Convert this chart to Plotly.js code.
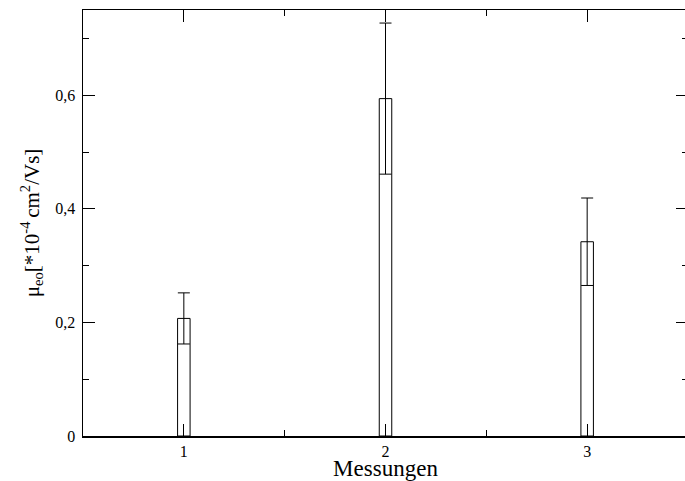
<!DOCTYPE html>
<html>
<head>
<meta charset="utf-8">
<script src="https://cdn.plot.ly/plotly-3.0.1.min.js"></script>
<style>
html, body { margin: 0; padding: 0; overflow: hidden; background: #fff; }
#chart { width: 690px; height: 481px; }
</style>
</head>
<body>
<div id="chart"></div>
<script>
const messungen = [1, 2, 3];
const mobility = [0.207, 0.594, 0.342];
const errors = [0.045, 0.133, 0.077];
const xTickLabels = ['1', '2', '3'];

const serif = 'Liberation Serif';

const barTrace = {
  type: 'bar',
  x: messungen,
  y: mobility,
  width: 0.062,
  marker: { color: 'rgba(255,255,255,1)', line: { color: '#000', width: 1 } },
  error_y: { type: 'data', array: errors, visible: true, color: '#000', thickness: 1, width: 6 },
  hoverinfo: 'none'
};

// invisible helper trace so the minor-tick overlay axes get drawn
const minorTickTrace = {
  type: 'scatter',
  mode: 'markers',
  x: messungen,
  y: mobility,
  xaxis: 'x2',
  yaxis: 'y2',
  marker: { opacity: 0, size: 1 },
  hoverinfo: 'none'
};

const tickFont = { family: serif, size: 16, color: '#000' };

const layout = {
  width: 690,
  height: 481,
  margin: { l: 83, r: 2, t: 10, b: 45 },
  paper_bgcolor: '#fff',
  plot_bgcolor: '#fff',
  separators: ',.',
  showlegend: false,
  font: { family: serif, size: 16, color: '#000' },
  xaxis: {
    range: [0.5, 3.5],
    tickmode: 'array',
    tickvals: messungen,
    ticktext: xTickLabels,
    ticks: 'inside',
    ticklen: 12,
    tickwidth: 1,
    tickcolor: '#000',
    showline: true,
    linecolor: '#000',
    linewidth: 1.5,
    mirror: 'ticks',
    showgrid: false,
    zeroline: false,
    tickfont: tickFont,
    title: { text: 'Messungen', font: { family: serif, size: 23, color: '#000' } }
  },
  yaxis: {
    range: [0, 0.75],
    tickmode: 'linear',
    dtick: 0.2,
    tick0: 0,
    ticks: 'inside',
    ticklen: 12,
    tickwidth: 1,
    tickcolor: '#000',
    showline: true,
    linecolor: '#000',
    linewidth: 1.5,
    mirror: 'ticks',
    showgrid: false,
    zeroline: false,
    tickfont: tickFont,
    ticklabelstandoff: 3,
    title: { text: 'μ<sub>eo</sub>[*10<sup>-4 </sup>cm<sup>2</sup>/Vs]', font: { family: serif, size: 21, color: '#000' }, standoff: 10 }
  },
  xaxis2: {
    overlaying: 'x',
    anchor: 'y2',
    side: 'bottom',
    range: [0.5, 3.5],
    tickmode: 'linear',
    tick0: 0.5,
    dtick: 0.5,
    ticks: 'inside',
    ticklen: 6,
    tickwidth: 1,
    tickcolor: '#000',
    showticklabels: false,
    showline: true,
    linecolor: '#000',
    linewidth: 1.5,
    mirror: 'ticks',
    showgrid: false,
    zeroline: false
  },
  yaxis2: {
    overlaying: 'y',
    anchor: 'x2',
    side: 'left',
    range: [0, 0.75],
    tickmode: 'linear',
    tick0: 0,
    dtick: 0.1,
    ticks: 'inside',
    ticklen: 6,
    tickwidth: 1,
    tickcolor: '#000',
    showticklabels: false,
    showline: true,
    linecolor: '#000',
    linewidth: 1.5,
    mirror: 'ticks',
    showgrid: false,
    zeroline: false
  }
};

Plotly.newPlot('chart', [barTrace, minorTickTrace], layout, { displayModeBar: false, staticPlot: true });
</script>
</body>
</html>
